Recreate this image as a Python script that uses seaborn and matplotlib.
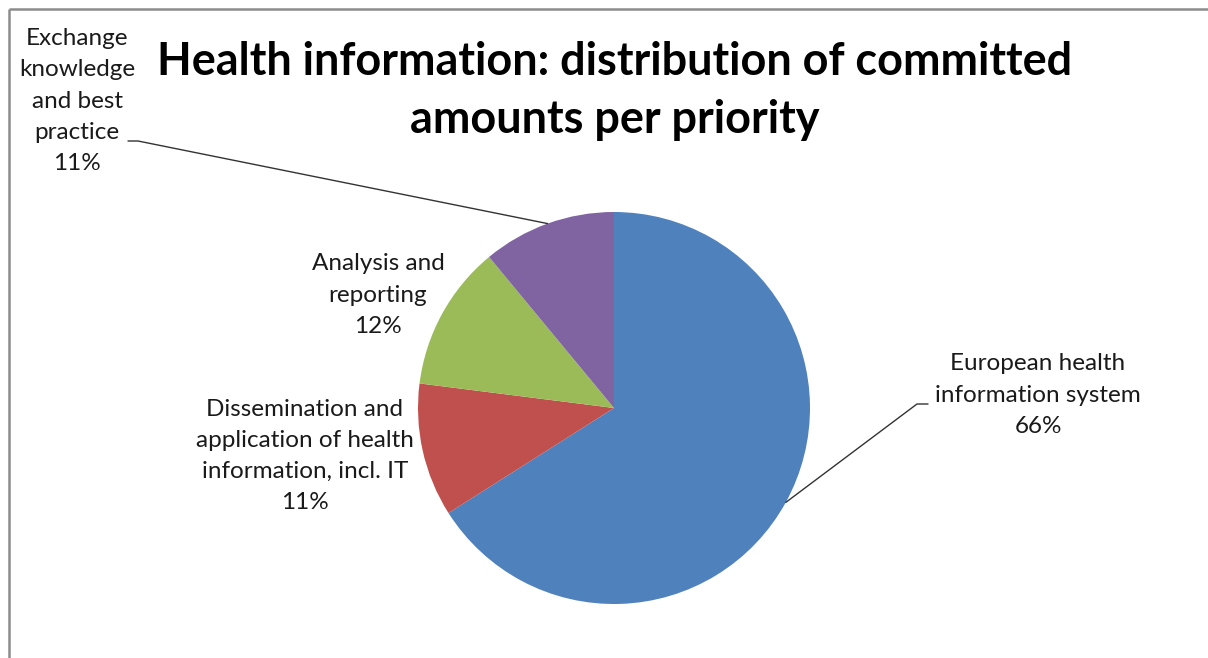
import numpy as np
import matplotlib
matplotlib.use("Agg")
import matplotlib.pyplot as plt
import seaborn as sns

# Committed amounts per priority (share of total, %)
priorities = [
    "European health\ninformation system",
    "Dissemination and\napplication of health\ninformation, incl. IT",
    "Analysis and\nreporting",
    "Exchange\nknowledge\nand best\npractice",
]
shares = [66, 11, 12, 11]
colors = ["#4F81BD", "#C0504D", "#9BBB59", "#8064A2"]

sns.set_theme(style="white")
plt.rcParams["font.family"] = ["Lato", "DejaVu Sans"]

W, H = 1208, 658
fig = plt.figure(figsize=(W / 100, H / 100), dpi=100)
ax = fig.add_axes([0, 0, 1, 1])

cx, cy, r = 614, H - 408, 196
wedges, _ = ax.pie(shares, colors=colors, startangle=90, counterclock=False,
                   center=(cx, cy), radius=r,
                   wedgeprops=dict(linewidth=0))
ax.set_xlim(0, W)
ax.set_ylim(0, H)
ax.set_aspect("equal")
ax.axis("off")

txt_color = "#1a1a1a"
label_fs = 17.5

# label centre positions (pixels from top-left) and leader elbows
label_pos = [(1038, 395), (305, 456), (378, 295), (77, 101)]
leaders = {0: (917, 404, 928), 3: (138, 141, 128)}

for i, (w, name, val) in enumerate(zip(wedges, priorities, shares)):
    lx, ly = label_pos[i]
    ax.text(lx, H - ly, f"{name}\n{val}%", ha="center", va="center",
            fontsize=label_fs, color=txt_color, linespacing=1.6)
    if i in leaders:
        ex, ey, hx = leaders[i]
        mid = np.deg2rad((w.theta1 + w.theta2) / 2)
        px, py = cx + r * np.cos(mid), cy + r * np.sin(mid)
        ax.plot([px, ex, hx], [py, H - ey, H - ey], color="#333333", lw=1.0)

ax.text(615, H - 91, "Health information: distribution of committed\namounts per priority",
        ha="center", va="center", fontsize=32.4, fontweight="bold", color="black",
        linespacing=1.48)

# chart-area border (top and left edges)
ax.plot([9, W + 5], [H - 9, H - 9], color="#8c8c8c", lw=1.8, solid_capstyle="butt")
ax.plot([9, 9], [H - 9, -5], color="#8c8c8c", lw=1.8, solid_capstyle="butt")

fig.savefig("out.png", dpi=100, facecolor="white")
